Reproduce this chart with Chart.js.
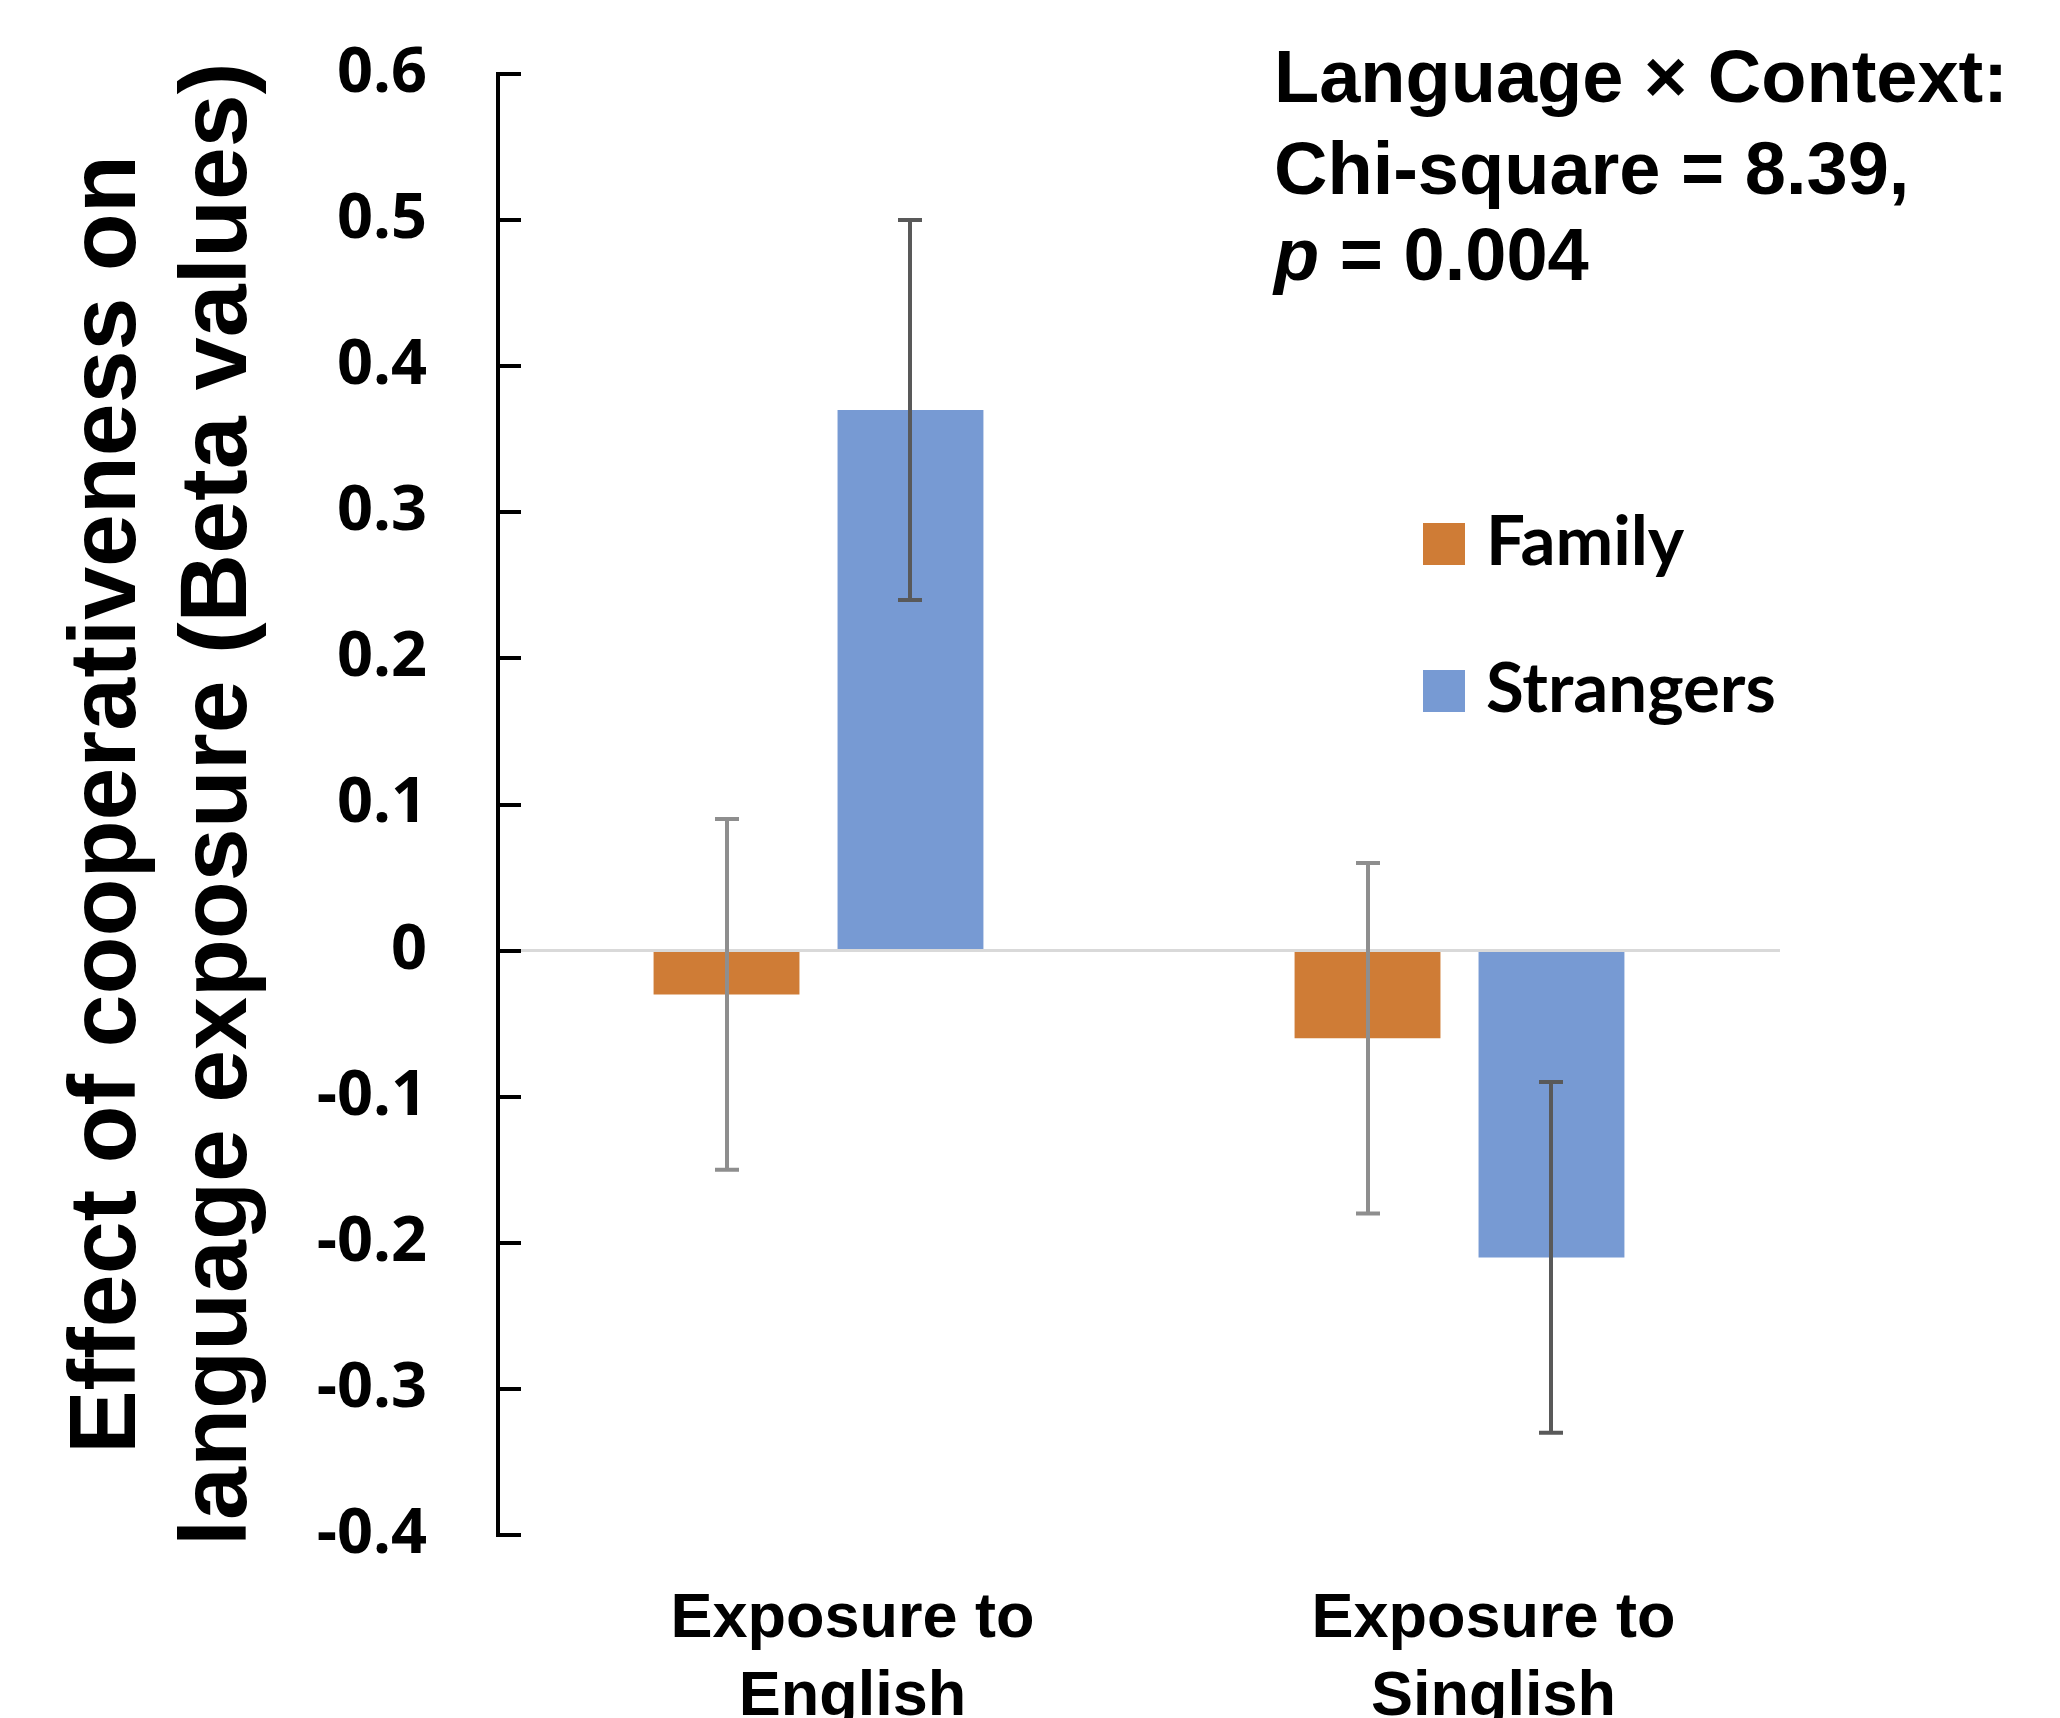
<!DOCTYPE html>
<html><head><meta charset="utf-8">
<script src="https://cdn.jsdelivr.net/npm/chart.js@4"></script>
<style>html,body{margin:0;padding:0;background:#fff;} #wrap{width:2060px;height:1718px;position:relative;overflow:hidden;}</style>
</head><body><div id="wrap"><canvas id="c"></canvas></div>
<script>
const categories = [['Exposure to', 'English'], ['Exposure to', 'Singlish']];
const seriesNames = ['Family', 'Strangers'];
const familyValues = [-0.03, -0.06];
const strangersValues = [0.37, -0.21];
const familyErrors = [0.12, 0.12];
const strangersErrors = [0.13, 0.12];
const yMin = -0.4, yMax = 0.6, yStep = 0.1;
const yTitleLines = ['Effect of cooperativeness on', 'language exposure (Beta values)'];
const annotationLine1 = 'Language \u00d7 Context:';
const annotationLine2 = 'Chi-square = 8.39,';
const annotationLine3Italic = 'p';
const annotationLine3Rest = ' = 0.004';

const seriesColors = ['#CF7C36', '#779AD3'];
const errorColors = ['#8E8E8E', '#595959'];
const ARIAL = '"Liberation Sans", Arial, sans-serif';

const errorBarPlugin = {
  id: 'errorBars',
  afterDatasetsDraw(chart) {
    const { ctx, scales: { y } } = chart;
    chart.data.datasets.forEach((ds, i) => {
      const meta = chart.getDatasetMeta(i);
      meta.data.forEach((bar, j) => {
        const v = ds.data[j], e = ds.errors[j];
        const x = Math.round(bar.x);
        const yt = y.getPixelForValue(v + e), yb = y.getPixelForValue(v - e);
        ctx.save();
        ctx.strokeStyle = ds.errorColor;
        ctx.lineWidth = 4;
        ctx.beginPath();
        ctx.moveTo(x, yt); ctx.lineTo(x, yb);
        ctx.moveTo(x - 12, yt); ctx.lineTo(x + 12, yt);
        ctx.moveTo(x - 12, yb); ctx.lineTo(x + 12, yb);
        ctx.stroke();
        ctx.restore();
      });
    });
  }
};

const innerTicksPlugin = {
  id: 'innerTicks',
  afterDatasetsDraw(chart) {
    const { ctx, chartArea, scales: { y } } = chart;
    ctx.save();
    ctx.strokeStyle = '#000';
    ctx.lineWidth = 4;
    ctx.beginPath();
    y.ticks.forEach(t => {
      const py = Math.round(y.getPixelForValue(t.value));
      ctx.moveTo(chartArea.left - 2, py);
      ctx.lineTo(chartArea.left + 23, py);
    });
    ctx.stroke();
    ctx.restore();
  }
};

const annotationPlugin = {
  id: 'annotationAndLegend',
  afterDraw(chart) {
    const { ctx } = chart;
    ctx.save();
    ctx.fillStyle = '#000';
    ctx.textBaseline = 'alphabetic';
    ctx.textAlign = 'left';
    ctx.font = 'bold 74px ' + ARIAL;
    ctx.fillText(annotationLine1, 1274, 102);
    ctx.fillText(annotationLine2, 1274, 194);
    ctx.font = 'italic bold 74px ' + ARIAL;
    ctx.fillText(annotationLine3Italic, 1274, 280);
    const w = ctx.measureText(annotationLine3Italic).width;
    ctx.font = 'bold 74px ' + ARIAL;
    ctx.fillText(annotationLine3Rest, 1274 + w, 280);

    // legend
    const legendY = [565, 712];
    chart.data.datasets.forEach((ds, i) => {
      ctx.fillStyle = ds.backgroundColor;
      ctx.fillRect(1423, legendY[i] - 42, 42, 42);
      ctx.fillStyle = '#000';
      ctx.font = 'bold 69px Lato, "Open Sans", sans-serif';
      ctx.fillText(ds.label, 1486, legendY[i]);
    });
    ctx.restore();
  }
};

new Chart(document.getElementById('c'), {
  type: 'bar',
  data: {
    labels: categories,
    datasets: [
      { label: seriesNames[0], data: familyValues, errors: familyErrors, backgroundColor: seriesColors[0], errorColor: errorColors[0], borderWidth: 0 },
      { label: seriesNames[1], data: strangersValues, errors: strangersErrors, backgroundColor: seriesColors[1], errorColor: errorColors[1], borderWidth: 0 }
    ]
  },
  options: {
    responsive: true,
    maintainAspectRatio: false,
    animation: false,
    devicePixelRatio: 1,
    categoryPercentage: 0.574,
    barPercentage: 0.793,
    layout: { padding: { left: 0, right: 280, top: 74, bottom: 0 } },
    plugins: { legend: { display: false }, tooltip: { enabled: false } },
    scales: {
      x: {
        grid: { display: false, drawTicks: false },
        border: { display: false },
        ticks: {
          color: '#000',
          font: { family: ARIAL, weight: 'bold', size: 63, lineHeight: 1.23 },
          padding: 46,
          labelOffset: 34,
          maxRotation: 0,
          autoSkip: false
        },
        afterFit(s) { s.height = 183; s.paddingLeft = 0; s.paddingRight = 0; }
      },
      y: {
        min: yMin,
        max: yMax,
        ticks: {
          stepSize: yStep,
          color: '#000',
          padding: 71,
          font: { family: '"Open Sans", sans-serif', weight: 'bold', size: 63 },
          callback: v => String(Number(Number(v).toFixed(1)))
        },
        grid: {
          drawTicks: false,
          color: c => (c.tick && Math.abs(c.tick.value) < 1e-9) ? '#D9D9D9' : 'rgba(0,0,0,0)',
          lineWidth: 3
        },
        border: { display: true, color: '#000', width: 4 },
        title: {
          display: true,
          text: yTitleLines,
          color: '#000',
          font: { family: ARIAL, weight: 'bold', size: 95, lineHeight: 1.167 },
          padding: { top: 53, bottom: 0 }
        },
        afterFit(s) { s.width = 498; s.paddingTop = 0; s.paddingBottom = 0; }
      }
    }
  },
  plugins: [errorBarPlugin, innerTicksPlugin, annotationPlugin]
});
</script>
</body></html>
